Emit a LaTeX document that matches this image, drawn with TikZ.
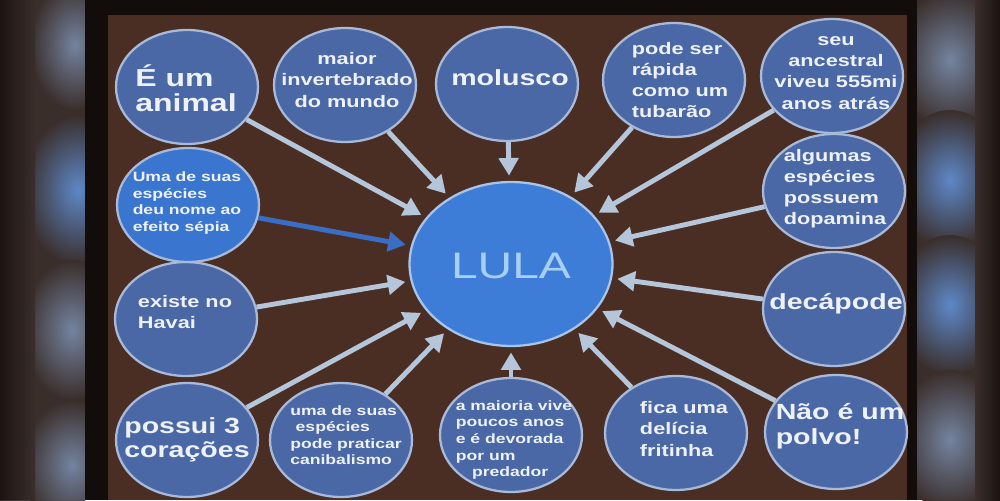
\documentclass[tikz,border=0pt]{standalone}
\usepackage{fontspec}
\usetikzlibrary{shapes.geometric,arrows.meta}
\newfontfamily\bubf[FakeStretch=1.3]{Liberation Sans}
\definecolor{bgbrown}{HTML}{4A2E24}
\definecolor{bubfill}{HTML}{4A67A6}
\definecolor{bubedge}{HTML}{A9B9D8}
\definecolor{sepfill}{HTML}{3A76D0}
\definecolor{separrow}{HTML}{3A6EC4}
\definecolor{cenfill}{HTML}{3D7DD8}
\definecolor{cenedge}{HTML}{A8C4EA}
\definecolor{lulatext}{HTML}{A6CFF2}
\definecolor{arrowc}{HTML}{B5C6DA}
\definecolor{txtc}{HTML}{EEF2F8}
\definecolor{panel}{HTML}{3A2E2B}
\definecolor{paneldark}{HTML}{1A1210}
\definecolor{blurblue}{HTML}{5E88C8}
\definecolor{blurgray}{HTML}{7484A0}
\definecolor{frame}{HTML}{120C0A}
\begin{document}
\begin{tikzpicture}[x=0.02cm,y=-0.02cm,
 bub/.style={ellipse, draw=bubedge, line width=1.3pt, fill=bubfill,
   minimum width=2.84cm, minimum height=2.28cm, inner sep=0pt},
 txt/.style={text=txtc, inner sep=0pt, align=left},
 fhuge/.style={font=\bubf\bfseries\fontsize{14}{14.5}\selectfont},
 fbig/.style={font=\bubf\bfseries\fontsize{12.5}{14}\selectfont},
 fmed/.style={font=\bubf\bfseries\fontsize{9.5}{12}\selectfont},
 fsmall/.style={font=\bubf\bfseries\fontsize{7.7}{9.4}\selectfont},
 arr/.style={draw=arrowc, line width=2.8pt, -{Triangle[length=10pt,width=11pt]}, shorten >=3pt}
]
\useasboundingbox (0,0) rectangle (1000,500);
% blurred side panels
\fill[panel] (0,0) rectangle (85,500);
\fill[panel] (917,0) rectangle (1000,500);
\begin{scope}
\clip (0,0) rectangle (85,500);
\shade[inner color=blurgray, outer color=panel] (75,45) ellipse [x radius=45, y radius=65];
\shade[inner color=blurblue, outer color=panel] (78,190) ellipse [x radius=55, y radius=75];
\shade[inner color=blurgray, outer color=panel] (72,330) ellipse [x radius=50, y radius=70];
\shade[inner color=blurgray, outer color=panel] (72,465) ellipse [x radius=50, y radius=65];
\shade[left color=paneldark, right color=panel, fill opacity=0.9] (0,0) rectangle (35,500);
\end{scope}
\begin{scope}
\clip (917,0) rectangle (1000,500);
\shade[inner color=blurgray, outer color=panel] (950,60) ellipse [x radius=55, y radius=70];
\shade[inner color=blurblue, outer color=panel] (950,180) ellipse [x radius=55, y radius=70];
\shade[inner color=blurblue, outer color=panel] (950,305) ellipse [x radius=55, y radius=70];
\shade[inner color=blurgray, outer color=panel] (950,440) ellipse [x radius=55, y radius=70];
\shade[left color=panel, right color=paneldark] (975,0) rectangle (1000,500);
\end{scope}
% slide frame and background
\fill[frame] (85,0) rectangle (917,500);
\fill[bgbrown] (108,15) rectangle (907,500);

% bubbles
\node[ellipse, draw=cenedge, line width=1.3pt, fill=cenfill, minimum width=4.06cm, minimum height=3.28cm, inner sep=0pt] (lula) at (511,264) {};
\node[text=lulatext, inner sep=0pt, font=\bubf\fontsize{21}{24}\selectfont] (lulaT) at (511,266) {LULA};

\node[bub] (animal) at (187,87) {};
\node[txt, fhuge] (animalT) at (186,88) {É um\\animal};
\node[bub] (maior) at (345,85) {};
\node[txt, fmed, align=center] (maiorT) at (347,80) {maior\\invertebrado\\do mundo};
\node[bub] (molusco) at (507,84) {};
\node[txt, fbig] (moluscoT) at (510,78) {molusco};
\node[bub] (rapida) at (674,80) {};
\node[txt, fmed] (rapidaT) at (680,80) {pode ser\\rápida\\como um\\tubarão};
\node[bub] (ancestral) at (832,76) {};
\node[txt, fmed, align=center] (ancestralT) at (836,73) {seu\\ancestral\\viveu 555mi\\anos atrás};
\node[bub] (dopamina) at (834,191) {};
\node[txt, fmed] (dopaminaT) at (835,189) {algumas\\espécies\\possuem\\dopamina};
\node[bub] (decapode) at (834,309) {};
\node[txt, fbig] (decapodeT) at (836,304) {decápode};
\node[bub] (polvo) at (836,432) {};
\node[txt, fbig] (polvoT) at (840,426) {Não é um\\polvo!};
\node[bub] (fica) at (676,433) {};
\node[txt, fmed] (ficaT) at (684,429) {fica uma\\delícia\\fritinha};
\node[bub] (maioria) at (511,435) {};
\node[txt, fsmall] (maioriaT) at (514,440) {a maioria vive\\poucos anos\\e é devorada\\por um\\\hspace{1.2em}predador};
\node[bub] (canib) at (341,440) {};
\node[txt, fsmall] (canibT) at (346,435) {uma de suas\\\hspace{0.4em}espécies\\pode praticar\\canibalismo};
\node[bub] (coracoes) at (187,440) {};
\node[txt, fbig] (coracoesT) at (187,440) {possui 3\\corações};
\node[bub] (havai) at (186,319) {};
\node[txt, fmed] (havaiT) at (185,312) {existe no\\Havai};
\node[bub, fill=sepfill] (sepia) at (188,205) {};
\node[txt, fsmall] (sepiaT) at (187,203) {Uma de suas\\espécies\\deu nome ao\\efeito sépia};

% arrows
\draw[arr] (animal) -- (lula);
\draw[arr] (maior) -- (lula);
\draw[arr] (molusco) -- (lula);
\draw[arr] (rapida) -- (lula);
\draw[arr] (ancestral) -- (lula);
\draw[arr] (dopamina) -- (lula);
\draw[arr] (decapode) -- (lula);
\draw[arr] (polvo) -- (lula);
\draw[arr] (fica) -- (lula);
\draw[arr] (maioria) -- (lula);
\draw[arr] (canib) -- (lula);
\draw[arr] (coracoes) -- (lula);
\draw[arr] (havai) -- (lula);
\draw[arr, draw=separrow] (sepia) -- (lula);
\end{tikzpicture}
\end{document}
